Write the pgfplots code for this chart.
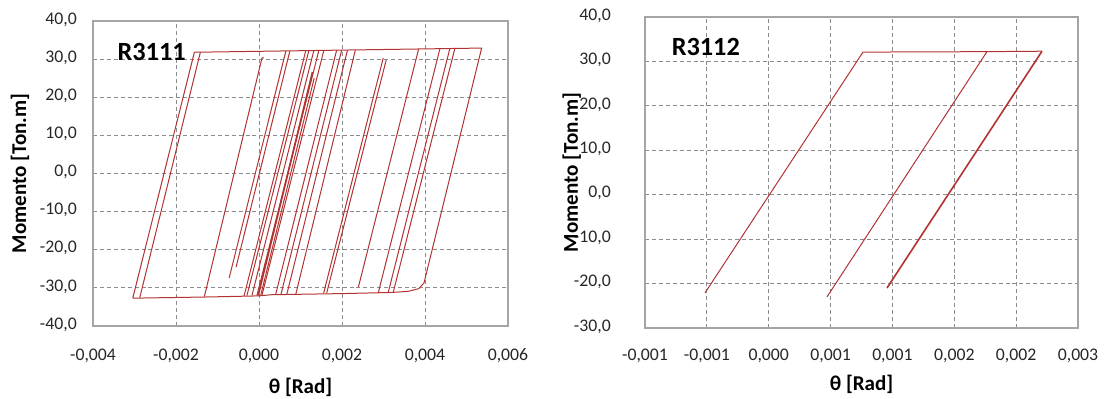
\documentclass[border=0pt]{standalone}
\usepackage{fontspec}
\setmainfont{Carlito}
\usepackage{pgfplots}
\pgfplotsset{compat=1.18}
\definecolor{hc}{RGB}{178,50,50}
\definecolor{gridc}{RGB}{140,140,140}
\definecolor{framec}{RGB}{165,165,165}
\pgfplotsset{
  myax/.style={
    scale only axis,
    axis line style={framec, line width=0.9pt},
    grid=major,
    major grid style={gridc, dash pattern=on 3pt off 2.2pt, line width=0.6pt},
    major tick length=0pt,
    tick label style={font=\fontsize{13.3}{16}\selectfont, text=black!85, inner sep=0pt},
    yticklabel style={anchor=mid east, xshift=-12pt},
    every axis y label/.style={at={(rel axis cs:-0.176,0.5)}, rotate=90, anchor=center, font=\fontsize{15.8}{18}\selectfont\bfseries},
    every axis x label/.style={at={(rel axis cs:0.5,-0.200)}, anchor=center, font=\fontsize{15.8}{18}\selectfont\bfseries},
    clip=true,
  },
  hl/.style={hc, line width=0.75pt, mark=none},
}
\begin{document}
\begin{tikzpicture}
\path[use as bounding box] (0pt,0pt) rectangle (834pt,299.25pt);
% ---------------- Left: R3111
\begin{axis}[myax,
  at={(69.75pt,54.75pt)}, anchor=south west,
  width=311.25pt, height=228.75pt,
  xmin=-0.004, xmax=0.006, ymin=-40, ymax=40,
  xtick={-0.004,-0.002,0,0.002,0.004,0.006},
  xticklabels={{-0,004},{-0,002},{0,000},{0,002},{0,004},{0,006}},
  ytick={-40,-30,-20,-10,0,10,20,30,40},
  yticklabels={{-40,0},{-30,0},{-20,0},{-10,0},{0,0},{10,0},{20,0},{30,0},{40,0}},
  xticklabel style={anchor=base, yshift=-26.25pt},
  xlabel={θ [Rad]}, ylabel={Momento [Ton.m]},
]
\addplot[hl] coordinates {(-0.003042,-32.7) (-0.001557,31.8) (0.005365,32.9) (0.003976,-28.7) (0.00385,-30.2) (0.0036,-30.9) (0.0032,-31.2) (0.002,-31.5) (0.0003,-31.8) (0.0,-32.1) (-0.0013,-32.4) (-0.003042,-32.7)};
\addplot[hl] coordinates {(-0.002874,-32.6) (-0.001413,31.8)};
\addplot[hl] coordinates {(-0.001317,-32.3) (0.000072,30.3) (0.00012,30.3)};
\addplot[hl] coordinates {(-0.000719,-27.4) (0.000647,32.1)};
\addplot[hl] coordinates {(-0.000551,-24.5) (0.000743,32.1)};
\addplot[hl] coordinates {(-0.000359,-32.1) (0.001126,32.2)};
\addplot[hl] coordinates {(-0.00029,-32.0) (0.0012,32.2)};
\addplot[hl] coordinates {(-0.00017,-32.0) (0.00132,32.2)};
\addplot[hl] coordinates {(-0.00005,-32.0) (0.00144,32.2)};
\addplot[hl] coordinates {(0.00007,-32.0) (0.00156,32.2)};
\addplot[hl, line width=1.3pt] coordinates {(-0.00002,-32.0) (0.00129,26.6)};
\addplot[hl] coordinates {(0.00004,-32.0) (0.00133,25.0)};
\addplot[hl] coordinates {(0.00040,-31.8) (0.00187,32.3)};
\addplot[hl] coordinates {(0.000527,-31.8) (0.00199,32.3)};
\addplot[hl] coordinates {(0.00067,-31.7) (0.00213,32.3)};
\addplot[hl] coordinates {(0.000886,-31.7) (0.00232,32.3)};
\addplot[hl] coordinates {(0.001557,-31.4) (0.002994,30.3)};
\addplot[hl] coordinates {(0.00163,-31.4) (0.003066,29.8)};
\addplot[hl] coordinates {(0.002395,-29.8) (0.003845,32.6)};
\addplot[hl] coordinates {(0.002874,-31.3) (0.004359,32.7)};
\addplot[hl] coordinates {(0.003114,-31.2) (0.004599,32.8)};
\addplot[hl] coordinates {(0.003234,-31.2) (0.004719,32.8)};
\node[anchor=west, font=\fontsize{19.7}{22}\selectfont\bfseries] at (rel axis cs:0.048,0.898) {R3111};
\end{axis}
% ---------------- Right: R3112
\begin{axis}[myax,
  at={(483.75pt,53.25pt)}, anchor=south west,
  width=324.75pt, height=233.25pt,
  xmin=-0.001, xmax=0.0025, ymin=-30, ymax=40,
  xtick={-0.001,-0.0005,0,0.0005,0.001,0.0015,0.002,0.0025},
  xticklabels={{-0,001},{-0,001},{0,000},{0,001},{0,001},{0,002},{0,002},{0,003}},
  ytick={-30,-20,-10,0,10,20,30,40},
  yticklabels={{-30,0},{-20,0},{-10,0},{0,0},{10,0},{20,0},{30,0},{40,0}},
  yticklabel style={anchor=mid east, xshift=-13.5pt},
  xticklabel style={anchor=base, yshift=-24.75pt},
  every axis y label/.style={at={(rel axis cs:-0.169,0.5)}, rotate=90, anchor=center, font=\fontsize{15.8}{18}\selectfont\bfseries},
  every axis x label/.style={at={(rel axis cs:0.5,-0.180)}, anchor=center, font=\fontsize{15.8}{18}\selectfont\bfseries},
  xlabel={θ [Rad]}, ylabel={Momento [Ton.m]},
]
\addplot[hl] coordinates {(-0.000515,-22.1) (0.000762,32.1) (0.001764,32.2) (0.000471,-23.0) (0.001764,32.2) (0.002209,32.3)};
\addplot[hl, line width=1.2pt] coordinates {(0.002209,32.3) (0.000956,-21.0)};
\node[anchor=west, font=\fontsize{19.7}{22}\selectfont\bfseries] at (rel axis cs:0.051,0.904) {R3112};
\end{axis}
\end{tikzpicture}
\end{document}
